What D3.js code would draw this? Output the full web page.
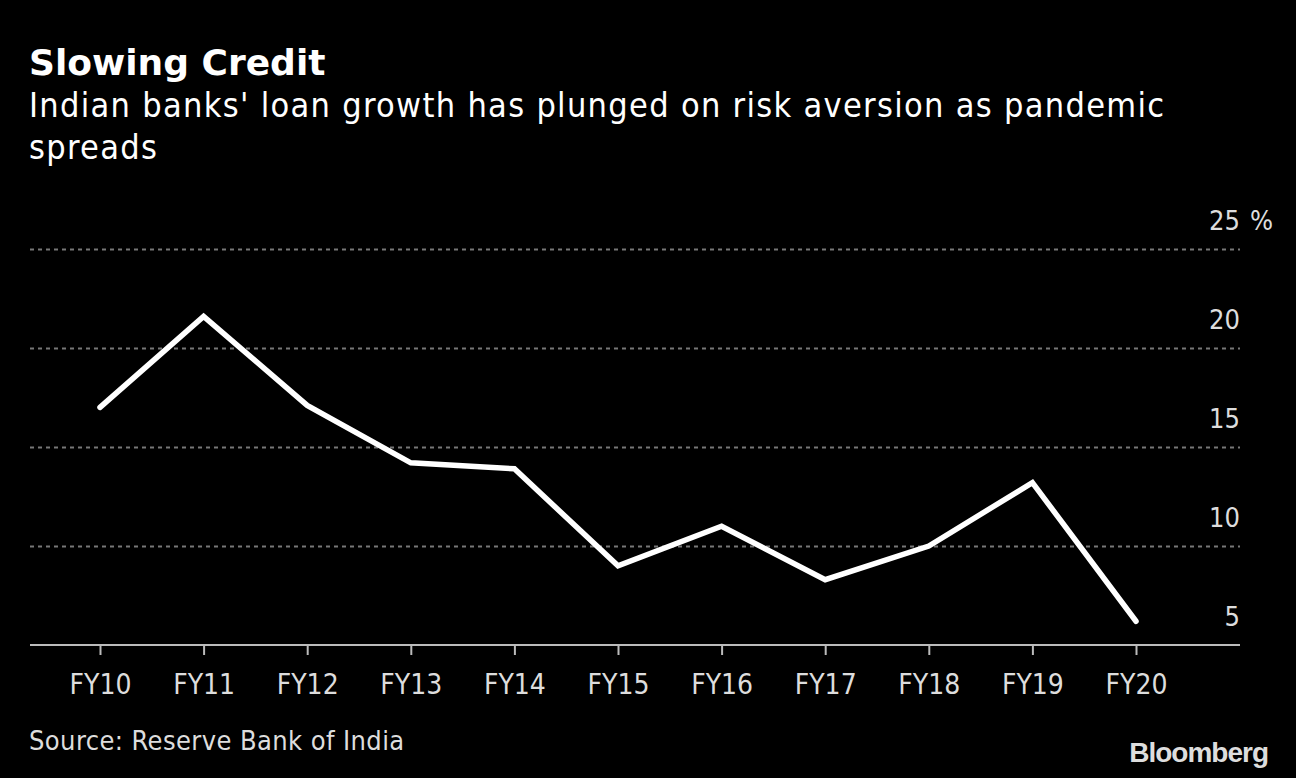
<!DOCTYPE html>
<html><head><meta charset="utf-8">
<script src="https://cdn.jsdelivr.net/npm/d3@7"></script>
<style>
html,body{margin:0;padding:0;background:#000;}
svg{display:block;}
</style></head>
<body>
<svg id="c" width="1296" height="778"></svg>
<script>
const categories = ["FY10","FY11","FY12","FY13","FY14","FY15","FY16","FY17","FY18","FY19","FY20"];
const loanGrowth = [17.0, 21.6, 17.1, 14.2, 13.9, 9.0, 11.0, 8.3, 10.0, 13.2, 6.2];
const yTicks = [5, 10, 15, 20, 25];

(function(){
const svg = d3.select("#c");
const W = 1296, H = 778;
svg.append("rect").attr("width", W).attr("height", H).attr("fill", "#000");

const fontC = "'DejaVu Sans', sans-serif";
const pLeft = 30, pRight = 1240, pTop = 249, pBottom = 645;

const x = d3.scalePoint().domain(categories).range([100, 1136]);
const y = d3.scaleLinear().domain([5, 25]).range([pBottom, pTop]);

// Title
svg.append("text").attr("x", 29).attr("y", 75)
  .attr("font-family", fontC).attr("font-weight", "bold").attr("font-size", 36)
  .attr("fill", "#fff").text("Slowing Credit");
svg.append("text").attr("x", 29).attr("y", 117)
  .attr("font-family", fontC).attr("font-stretch", "condensed").attr("font-size", 34)
  .attr("letter-spacing", 1.3)
  .attr("fill", "#fff").text("Indian banks' loan growth has plunged on risk aversion as pandemic");
svg.append("text").attr("x", 29).attr("y", 159)
  .attr("font-family", fontC).attr("font-stretch", "condensed").attr("font-size", 34)
  .attr("letter-spacing", 1.3)
  .attr("fill", "#fff").text("spreads");

// Gridlines
const g = svg.append("g");
g.selectAll("line.grid").data(yTicks.filter(d => d !== 5)).join("line")
  .attr("class", "grid")
  .attr("x1", pLeft).attr("x2", pRight)
  .attr("y1", d => Math.round(y(d)) + 0.5).attr("y2", d => Math.round(y(d)) + 0.5)
  .attr("stroke", "#777").attr("stroke-width", 2).attr("stroke-dasharray", "4,4");

// Y labels
g.selectAll("text.ylab").data(yTicks).join("text")
  .attr("class", "ylab")
  .attr("x", pRight).attr("y", d => y(d) - 19)
  .attr("text-anchor", "end")
  .attr("font-family", fontC).attr("font-stretch", "condensed").attr("font-size", 27)
  .attr("fill", "#ddd").text(d => d);
svg.append("text").attr("x", 1250).attr("y", y(25) - 19)
  .attr("font-family", fontC).attr("font-stretch", "condensed").attr("font-size", 27)
  .attr("fill", "#ddd").text("%");

// X axis
const xAxis = d3.axisBottom(x).tickSize(10).tickPadding(19);
const ax = svg.append("g").attr("transform", `translate(0,${pBottom})`).call(xAxis);
ax.select(".domain").remove();
ax.append("line").attr("x1", pLeft).attr("x2", pRight).attr("y1", 0).attr("y2", 0)
  .attr("stroke", "#bbb").attr("stroke-width", 2);
ax.selectAll(".tick line").attr("stroke", "#bbb").attr("stroke-width", 2);
ax.selectAll(".tick text").attr("fill", "#ddd")
  .attr("font-family", fontC).attr("font-stretch", "condensed").attr("font-size", 28);

// Line
const line = d3.line().x((d, i) => x(categories[i])).y(d => y(d));
svg.append("path").datum(loanGrowth)
  .attr("d", line).attr("fill", "none")
  .attr("stroke", "#fff").attr("stroke-width", 5.5)
  .attr("stroke-linejoin", "miter").attr("stroke-linecap", "round");

// Source
svg.append("text").attr("x", 29).attr("y", 750)
  .attr("font-family", fontC).attr("font-stretch", "condensed").attr("font-size", 27)
  .attr("letter-spacing", 0.4)
  .attr("fill", "#ddd").text("Source: Reserve Bank of India");

// Logo
svg.append("text").attr("x", 1268).attr("y", 762).attr("text-anchor", "end")
  .attr("font-family", "'Liberation Sans', Arial, sans-serif").attr("font-weight", "bold")
  .attr("font-size", 28).attr("letter-spacing", -1).attr("fill", "#ddd").text("Bloomberg");
})();
</script>
</body></html>
